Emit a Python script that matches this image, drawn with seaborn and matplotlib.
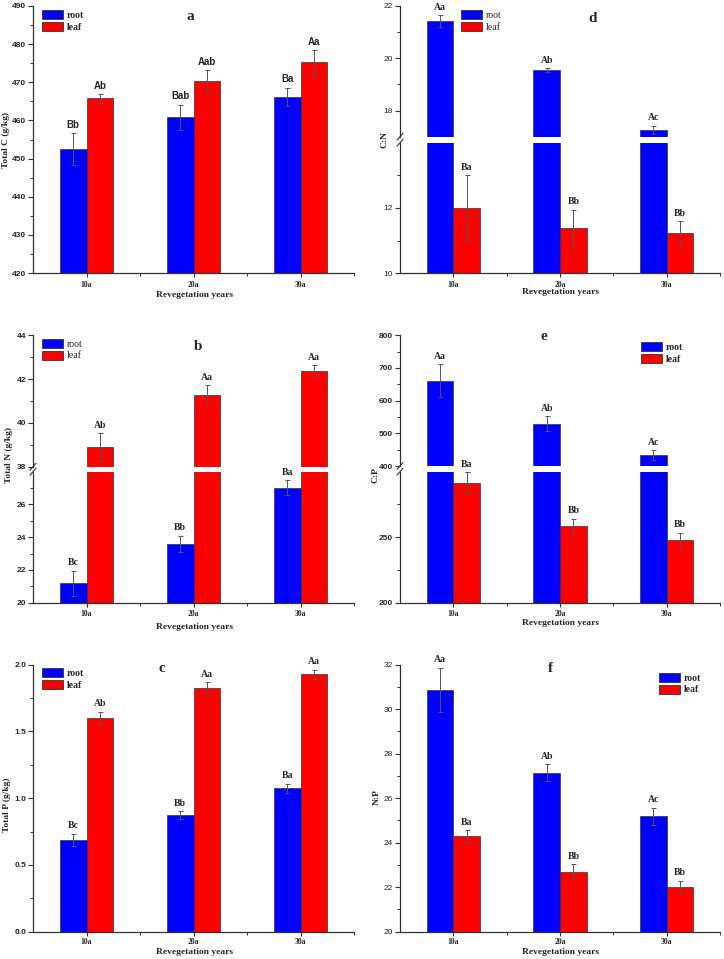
import pandas as pd
import seaborn as sns
import matplotlib.pyplot as plt
from matplotlib.patches import Patch
from matplotlib.lines import Line2D

## data ------------------------------------------------------------------

years = ['10a', '20a', '30a']
organs = ['root', 'leaf']

# a. total C (g/kg)
c_root = [452.5, 460.8, 466.2]
c_root_err = [4.1, 3.3, 2.4]
c_leaf = [465.8, 470.3, 475.2]
c_leaf_err = [1.1, 2.9, 3.2]
c_root_lab = ['Bb', 'Bab', 'Ba']
c_leaf_lab = ['Ab', 'Aab', 'Aa']

# b. total N (g/kg)
n_root = [21.18, 23.58, 27.02]
n_root_err = [0.77, 0.5, 0.45]
n_leaf = [38.88, 41.26, 42.35]
n_leaf_err = [0.64, 0.45, 0.29]
n_root_lab = ['Bc', 'Bb', 'Ba']
n_leaf_lab = ['Ab', 'Aa', 'Aa']

# c. total P (g/kg)
p_root = [0.6875, 0.8725, 1.075]
p_root_err = [0.045, 0.03, 0.035]
p_leaf = [1.6025, 1.8225, 1.9275]
p_leaf_err = [0.045, 0.045, 0.035]
p_root_lab = ['Bc', 'Bb', 'Ba']
p_leaf_lab = ['Ab', 'Aa', 'Aa']

# d. C:N
cn_root = [21.42, 19.54, 17.27]
cn_root_err = [0.23, 0.07, 0.15]
cn_leaf = [12.0, 11.4, 11.22]
cn_leaf_err = [1.0, 0.55, 0.37]
cn_root_lab = ['Aa', 'Ab', 'Ac']
cn_leaf_lab = ['Ba', 'Bb', 'Bb']

# e. C:P
cp_root = [661, 530, 433]
cp_root_err = [50, 22, 16]
cp_leaf = [291.6, 258.6, 247.5]
cp_leaf_err = [8, 5.5, 6]
cp_root_lab = ['Aa', 'Ab', 'Ac']
cp_leaf_lab = ['Ba', 'Bb', 'Bb']

# f. N:P
np_root = [30.86, 27.15, 25.18]
np_root_err = [1.0, 0.37, 0.4]
np_leaf = [24.3, 22.7, 22.02]
np_leaf_err = [0.25, 0.33, 0.28]
np_root_lab = ['Aa', 'Ab', 'Ac']
np_leaf_lab = ['Ba', 'Bb', 'Bb']

## style ------------------------------------------------------------------

sns.set_style('ticks')
plt.rcParams['font.family'] = ['Liberation Serif', 'DejaVu Serif']
plt.rcParams['axes.edgecolor'] = '#333333'
plt.rcParams['axes.linewidth'] = 0.9

pal = {'root': '#0000ff', 'leaf': '#ff0000'}
SERIF = 'Liberation Serif'
SANS = 'Liberation Sans'

W, H = 724, 959
fig = plt.figure(figsize=(W / 100, H / 100), dpi=100)


def fx(x):
    return x / W


def fy(y):
    return 1 - y / H


def px_axes(l, t, r, b):
    return fig.add_axes([fx(l), fy(b), (r - l) / W, (b - t) / H])


def frame(root, leaf):
    return pd.DataFrame({'year': years * 2,
                         'organ': ['root'] * 3 + ['leaf'] * 3,
                         'value': list(root) + list(leaf)})


def draw(ax, root, leaf, rerr, lerr, ylim, major, minor, tick_weight, fmt='%g'):
    sns.barplot(data=frame(root, leaf), x='year', y='value', hue='organ',
                order=years, hue_order=organs, palette=pal, width=0.5,
                saturation=1, errorbar=None, edgecolor='#333333',
                linewidth=0.5, legend=False, ax=ax)
    for cont, errs, vals in zip(ax.containers, [rerr, lerr], [root, leaf]):
        xs = [b.get_x() + b.get_width() / 2 for b in cont]
        ax.errorbar(xs, vals, yerr=errs, fmt='none', ecolor='#555555',
                    elinewidth=0.7, capsize=1.8, capthick=0.7, zorder=5)
    ax.set_xlim(-0.5, 2.5)
    ax.set_ylim(*ylim)
    ax.set_xlabel('')
    ax.set_ylabel('')
    sns.despine(ax=ax)
    ax.set_yticks(major, labels=[fmt % m for m in major],
                  fontfamily=SANS, fontweight=tick_weight, fontsize=6)
    ax.set_yticks(minor, minor=True)
    ax.tick_params(axis='y', which='major', left=True, direction='out',
                   length=3.5, width=0.8, pad=1.5, color='#333333')
    ax.tick_params(axis='y', which='minor', left=True, direction='out',
                   length=2.2, width=0.7, color='#333333')


def xaxis(ax, pad=2.5):
    ax.set_xticks([0, 1, 2], labels=years, fontfamily=SERIF,
                  fontweight='bold', fontsize=5.5)
    ax.set_xticks([0.5, 1.5, 2.5], minor=True)
    ax.tick_params(axis='x', which='major', bottom=True, direction='out',
                   length=3, width=0.8, pad=pad, color='#333333')
    ax.tick_params(axis='x', which='minor', bottom=True, direction='out',
                   length=2, width=0.7, color='#333333')


def no_xaxis(ax):
    ax.spines['bottom'].set_visible(False)
    ax.set_xticks([])
    ax.set_xticks([], minor=True)


def labels(axes, root, leaf, rerr, lerr, rlab, llab, family):
    for i, organ in enumerate(organs):
        vals = [root, leaf][i]
        errs = [rerr, lerr][i]
        labs = [rlab, llab][i]
        cont = axes[-1].containers[i]
        for bar, v, e, lab in zip(cont, vals, errs, labs):
            top = v + e
            target = axes[-1]
            for a in axes:
                lo, hi = a.get_ylim()
                if lo <= top <= hi:
                    target = a
            if top > axes[0].get_ylim()[1]:
                target = axes[0]
            target.annotate(lab, (bar.get_x() + bar.get_width() / 2, top),
                            xytext=(0, 2.5), textcoords='offset points',
                            ha='center', va='bottom', fontsize=7,
                            fontweight='bold', fontfamily=family,
                            annotation_clip=False)


def legend(ax, x, y, weight):
    handles = [Patch(facecolor=pal[o], edgecolor='#333333', linewidth=0.6,
                     label=o) for o in organs]
    ax.legend(handles=handles, loc='upper left', bbox_to_anchor=(fx(x), fy(y)),
              bbox_transform=fig.transFigure, frameon=False, borderpad=0,
              borderaxespad=0, handlelength=2.15, handleheight=1.0,
              handletextpad=0.4, labelspacing=0.22,
              prop={'family': SERIF, 'weight': weight, 'size': 7})


def title(letter, x, y):
    fig.text(fx(x), fy(y), letter, ha='center', va='center', fontsize=11,
             fontweight='bold', fontfamily=SERIF)


def xlabel(x, y):
    fig.text(fx(x), fy(y), 'Revegetation years', ha='center', va='center',
             fontsize=6.8, fontweight='bold', fontfamily=SERIF)


def ylabel(text, x, y):
    fig.text(fx(x), fy(y), text, ha='center', va='center', rotation=90,
             fontsize=6.8, fontweight='bold', fontfamily=SERIF)


def breakmark(x, y):
    for yy in y:
        fig.add_artist(Line2D([fx(x - 3), fx(x + 3)], [fy(yy + 3.5), fy(yy - 3.5)],
                              color='#333333', lw=0.8))


## a. total C --------------------------------------------------------------
ax = px_axes(33, 6, 354, 273)
draw(ax, c_root, c_leaf, c_root_err, c_leaf_err, (420, 490),
     list(range(420, 491, 10)), list(range(425, 490, 10)), 'bold')
xaxis(ax)
labels([ax], c_root, c_leaf, c_root_err, c_leaf_err, c_root_lab, c_leaf_lab, SANS)
legend(ax, 42, 10, 'bold')
title('a', 190, 16)
xlabel(194, 295)
ylabel('Total C (g/kg)', 6, 140)

## d. C:N (broken axis) ----------------------------------------------------
ax_t = px_axes(400, 6, 720, 136.7)
ax_b = px_axes(400, 142.7, 720, 273.3)
draw(ax_t, cn_root, cn_leaf, cn_root_err, cn_leaf_err, (17, 22),
     [18, 20, 22], [19, 21], 'normal')
draw(ax_b, cn_root, cn_leaf, cn_root_err, cn_leaf_err, (10, 14),
     [10, 12], [11, 13], 'normal')
no_xaxis(ax_t)
xaxis(ax_b)
labels([ax_t, ax_b], cn_root, cn_leaf, cn_root_err, cn_leaf_err,
       cn_root_lab, cn_leaf_lab, SERIF)
legend(ax_t, 461, 10, 'normal')
title('d', 593, 18)
xlabel(560, 292)
ylabel('C:N', 385, 140)
breakmark(400, [136.7, 142.7])

## b. total N (broken axis) ------------------------------------------------
ax_t = px_axes(33, 335.3, 354, 466.7)
ax_b = px_axes(33, 471.7, 354, 602.7)
draw(ax_t, n_root, n_leaf, n_root_err, n_leaf_err, (38, 44),
     [38, 40, 42, 44], [39, 41, 43], 'bold')
draw(ax_b, n_root, n_leaf, n_root_err, n_leaf_err, (20, 28),
     [20, 22, 24, 26], [21, 23, 25, 27], 'bold')
no_xaxis(ax_t)
xaxis(ax_b)
labels([ax_t, ax_b], n_root, n_leaf, n_root_err, n_leaf_err,
       n_root_lab, n_leaf_lab, SERIF)
legend(ax_t, 42, 339, 'normal')
title('b', 198, 347)
xlabel(194, 627)
ylabel('Total N (g/kg)', 9, 455)
breakmark(33, [466.7, 471.7])

## e. C:P (broken axis) ----------------------------------------------------
ax_t = px_axes(400, 335.3, 720, 466)
ax_b = px_axes(400, 471.7, 720, 602.7)
draw(ax_t, cp_root, cp_leaf, cp_root_err, cp_leaf_err, (400, 800),
     [400, 500, 600, 700, 800], [450, 550, 650, 750], 'bold')
draw(ax_b, cp_root, cp_leaf, cp_root_err, cp_leaf_err, (200, 300),
     [200, 250], [225, 275], 'bold')
no_xaxis(ax_t)
xaxis(ax_b)
labels([ax_t, ax_b], cp_root, cp_leaf, cp_root_err, cp_leaf_err,
       cp_root_lab, cp_leaf_lab, SERIF)
legend(ax_t, 641, 342, 'bold')
title('e', 544, 337)
xlabel(560, 623)
ylabel('C:P', 375, 475)
breakmark(400, [466, 471.7])

## c. total P --------------------------------------------------------------
ax = px_axes(33, 664.7, 354, 931.7)
draw(ax, p_root, p_leaf, p_root_err, p_leaf_err, (0, 2.0),
     [0.0, 0.5, 1.0, 1.5, 2.0], [0.25, 0.75, 1.25, 1.75], 'bold', fmt='%.1f')
xaxis(ax, pad=1.5)
labels([ax], p_root, p_leaf, p_root_err, p_leaf_err, p_root_lab, p_leaf_lab, SERIF)
legend(ax, 42, 668, 'bold')
title('c', 162, 669)
xlabel(194, 951.5)
ylabel('Total P (g/kg)', 7, 805)

## f. N:P ------------------------------------------------------------------
ax = px_axes(400, 664.7, 720, 931.7)
draw(ax, np_root, np_leaf, np_root_err, np_leaf_err, (20, 32),
     list(range(20, 33, 2)), list(range(21, 32, 2)), 'normal')
xaxis(ax, pad=1.5)
labels([ax], np_root, np_leaf, np_root_err, np_leaf_err, np_root_lab, np_leaf_lab, SERIF)
legend(ax, 659, 673, 'bold')
title('f', 550, 668)
xlabel(560, 952)
ylabel('N:P', 377, 797)

fig.savefig('out.png', dpi=100)
